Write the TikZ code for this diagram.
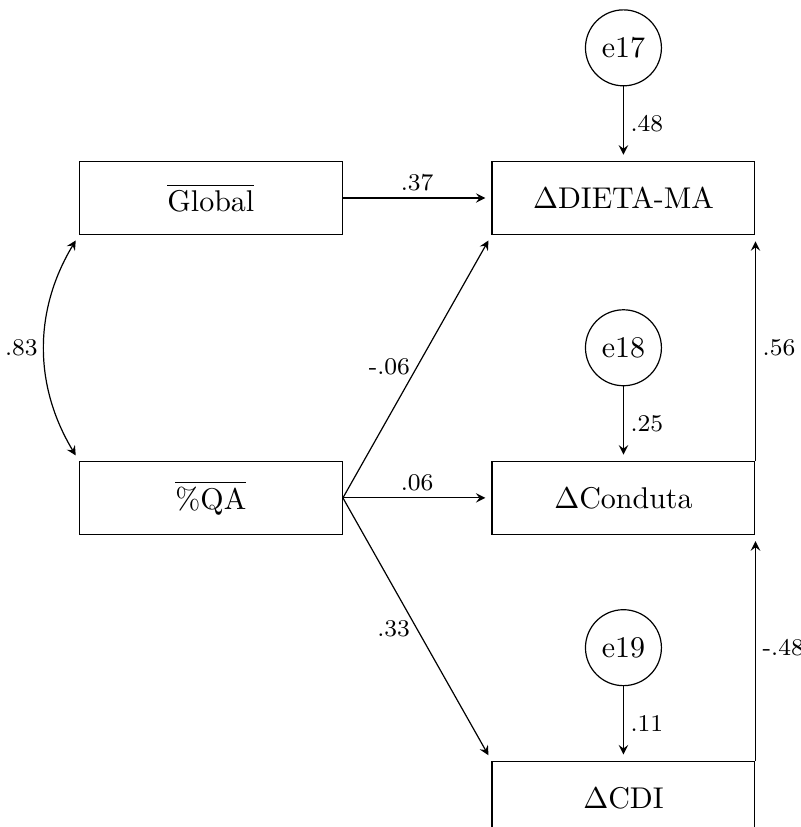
\documentclass[tikz,border=0pt]{standalone}
\usepackage{tikz}
\usetikzlibrary{arrows.meta,positioning}

\begin{document}
\begin{tikzpicture}[
>=stealth,
box/.style={draw, minimum width=3.08cm, minimum height=0.86cm, align=center},
err/.style={draw, circle, minimum size=0.89cm, inner sep=0pt},
arrow/.style={->, shorten >=2pt},
coef/.style={font=\footnotesize, inner sep=2.2pt}
]
\useasboundingbox (-70.3pt,-209.7pt) rectangle (196.7pt,66pt);

% Predictors (left side)
\node[box] (global) at (0,0) {$\overline{\mbox{Global}}$};
\node[box, below=2.64cm of global] (qa) {$\overline{\mbox{\%QA}}$};

% Outcomes (right side)
\node[box, right=1.74cm of global] (dieta) {$\Delta$DIETA-MA};
\node[box, below=2.64cm of dieta] (conduta) {$\Delta$Conduta};
\node[box, below=2.64cm of conduta] (cdi) {$\Delta$CDI};

% Error terms
\node[err, above=0.87cm of dieta] (e17) {e17};
\node[err, above=0.87cm of conduta] (e18) {e18};
\node[err, above=0.87cm of cdi] (e19) {e19};

% Correlation between predictors
\draw[<->, shorten <=2pt, shorten >=2pt] (global.south west) to[bend right=31] node[coef, left] {.83} (qa.north west);

% Paths from predictors
\draw[arrow] (global) -- node[coef, above] {.37} (dieta);
\draw[arrow] (qa.east) -- node[coef, left] {-.06} (dieta.south west);
\draw[arrow] (qa) -- node[coef, above] {.06} (conduta);
\draw[arrow] (qa.east) -- node[coef, left] {.33} (cdi.north west);

% Paths between outcomes
\draw[arrow] (conduta.north east) -- node[coef, right] {.56} (dieta.south east);
\draw[arrow] (cdi.north east) -- node[coef, right] {-.48} (conduta.south east);

% Errors to outcomes
\draw[arrow] (e17) -- node[coef, right] {.48} (dieta);
\draw[arrow] (e18) -- node[coef, right] {.25} (conduta);
\draw[arrow] (e19) -- node[coef, right] {.11} (cdi);

\end{tikzpicture}
\end{document}
